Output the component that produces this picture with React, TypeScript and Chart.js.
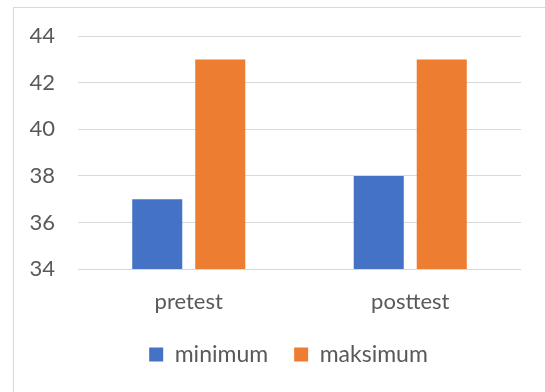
import React, { useEffect, useRef } from "react";
import { Chart, registerables } from "chart.js";

Chart.register(...registerables);

const categories = ["pretest", "posttest"];
const minimumValues = [37, 38];
const maksimumValues = [43, 43];
const seriesNames = ["minimum", "maksimum"];
const yMin = 34;
const yMax = 44;
const yStep = 2;

const FONT = "Lato, 'Open Sans', sans-serif";
const TEXT = "#595959";

const shiftLegend = {
  id: "shiftLegend",
  afterLayout(chart: any) {
    const lg = chart.legend;
    if (lg) {
      lg.left += 28;
      lg.right += 28;
    }
  },
};

export default function App() {
  const ref = useRef<HTMLCanvasElement | null>(null);
  useEffect(() => {
    if (!ref.current) return;
    const chart = new Chart(ref.current, {
      type: "bar",
      data: {
        labels: categories,
        datasets: [
          {
            label: seriesNames[0],
            data: minimumValues,
            backgroundColor: "#4472C4",
            categoryPercentage: 0.569,
            barPercentage: 0.794,
          },
          {
            label: seriesNames[1],
            data: maksimumValues,
            backgroundColor: "#ED7D31",
            categoryPercentage: 0.569,
            barPercentage: 0.794,
          },
        ],
      },
      plugins: [shiftLegend],
      options: {
        responsive: false,
        animation: false,
        layout: { padding: { top: 36, left: 0, right: 24, bottom: 16 } },
        plugins: {
          tooltip: { enabled: false },
          legend: {
            position: "bottom",
            labels: {
              color: TEXT,
              font: { family: FONT, size: 23 },
              boxWidth: 14,
              boxHeight: 14,
              padding: 26,
            },
          },
        },
        scales: {
          x: {
            grid: { display: false },
            border: { display: false },
            ticks: {
              color: TEXT,
              font: { family: FONT, size: 22 },
              padding: 12,
            },
            afterFit: (s: any) => {
              s.height = 48;
            },
          },
          y: {
            min: yMin,
            max: yMax,
            grid: { color: "#d9d9d9", lineWidth: 1, drawTicks: false },
            border: { display: false },
            ticks: {
              stepSize: yStep,
              color: TEXT,
              font: { family: FONT, size: 22 },
              padding: 23,
            },
            afterFit: (s: any) => {
              s.width = 78;
            },
          },
        },
      },
    });
    return () => chart.destroy();
  }, []);
  return (
    <div style={{ position: "absolute", left: 0, top: 0, width: 545, height: 392, background: "#fff", overflow: "hidden" }}>
      <div
        style={{
          position: "absolute",
          left: 13,
          top: 7,
          width: 700,
          height: 600,
          border: "1px solid #d9d9d9",
        }}
      />
      <canvas ref={ref} width={545} height={392} style={{ position: "absolute", left: 0, top: 0 }} />
    </div>
  );
}
